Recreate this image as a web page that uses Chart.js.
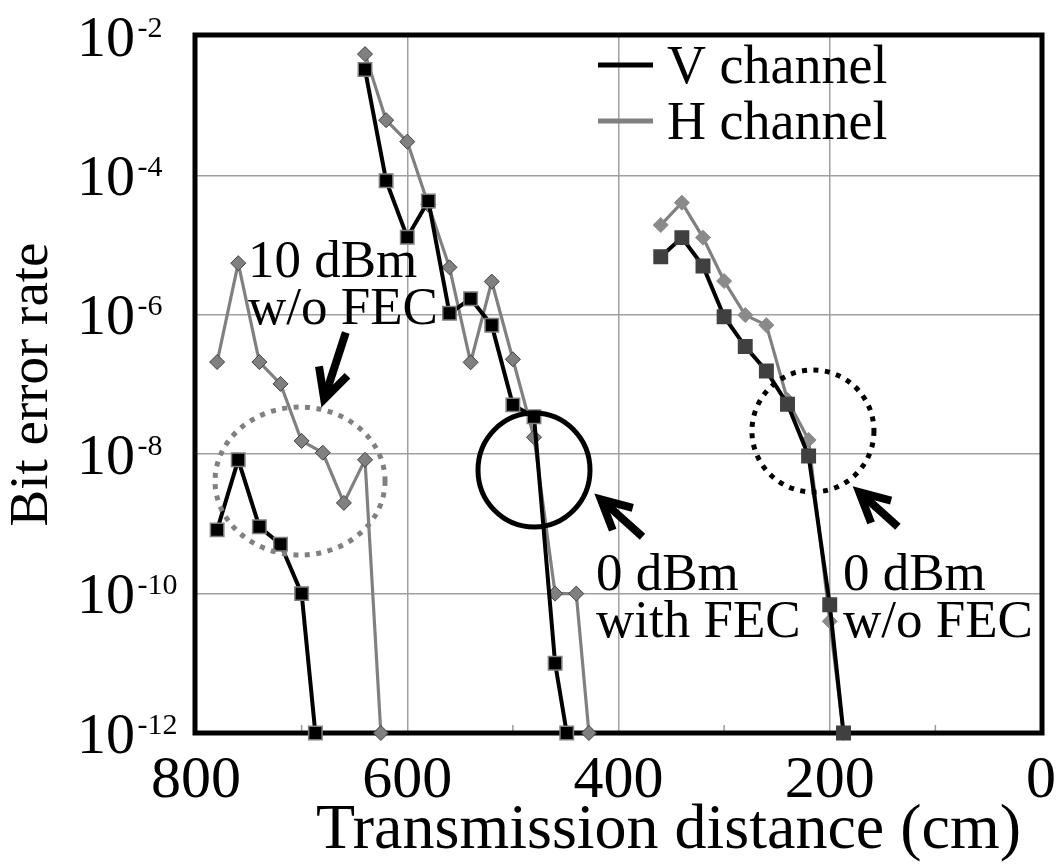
<!DOCTYPE html>
<html><head><meta charset="utf-8">
<script src="https://cdn.jsdelivr.net/npm/chart.js@4.4.0/dist/chart.umd.min.js"></script>
<style>html,body{margin:0;padding:0;background:#fff;} #wrap{width:1056px;height:865px;position:relative;}</style>
</head><body><div id="wrap"><canvas id="c" width="1056" height="865"></canvas></div>
<script>
// ---- tick labels ----
const xTicks = [800, 600, 400, 200, 0];
const yTickExponents = [-12, -10, -8, -6, -4, -2];
const minorX = [700, 500, 300, 100];

// ---- 10 dBm w/o FEC ----
const v10Dist = [780, 760, 740, 720, 700, 687];
const v10Ber  = [8.2e-10, 8.3e-9, 9.1e-10, 5.1e-10, 1.0e-10, 1e-12];
const h10Dist = [780, 760, 740, 720, 700, 680, 660, 640, 625];
const h10Ber  = [2.1e-7, 5.5e-6, 2.1e-7, 1.02e-7, 1.55e-8, 1.05e-8, 2.0e-9, 8.3e-9, 1e-12];

// ---- 0 dBm with FEC ----
const vFecDist = [640, 620, 600, 580, 560, 540, 520, 500, 480, 460, 449];
const vFecBer  = [3.3e-3, 8.4e-5, 1.3e-5, 4.3e-5, 1.05e-6, 1.7e-6, 7.1e-7, 5.1e-8, 3.45e-8, 1.0e-11, 1e-12];
const hFecDist = [640, 620, 600, 580, 560, 540, 520, 500, 480, 460, 440, 428];
const hFecBer  = [5.5e-3, 6.2e-4, 3.05e-4, 3.8e-5, 4.8e-6, 2.08e-7, 3.0e-6, 2.3e-7, 1.75e-8, 1e-10, 1e-10, 1e-12];

// ---- 0 dBm w/o FEC ----
const vNoDist = [360, 340, 320, 300, 280, 260, 240, 220, 200, 187];
const vNoBer  = [6.8e-6, 1.28e-5, 5.0e-6, 9.4e-7, 3.5e-7, 1.56e-7, 5.2e-8, 9.4e-9, 6.9e-11, 1e-12];
const hNoDist = [360, 340, 320, 300, 280, 260, 240, 220, 200, 187];
const hNoBer  = [1.94e-5, 4.06e-5, 1.28e-5, 3.05e-6, 9.9e-7, 7.1e-7, 6.0e-8, 1.6e-8, 4e-11, 1e-12];

const legendLabels = ['V channel', 'H channel'];
const xTitle = 'Transmission distance (cm)';
const yTitle = 'Bit error rate';

// ---- annotations (anchored in data coordinates) ----
const notes = [
  {lines: ['10 dBm', 'w/o FEC'], x: 750.8, logY: -5.458},
  {lines: ['0 dBm', 'with FEC'], x: 421.3, logY: -9.948},
  {lines: ['0 dBm', 'w/o FEC'], x: 187.5, logY: -9.948}
];
const circles = [
  {x: 701.5, logY: -8.385, rx: 85, ry: 74, color: '#808080', dash: [5, 6.5]},
  {x: 480.0, logY: -8.227, rx: 56, ry: 57, color: '#000000', dash: []},
  {x: 215.9, logY: -7.667, rx: 61, ry: 61, color: '#000000', dash: [5, 6.5]}
];
const arrows = [
  {x: 681, logY: -7.318, angle: -72, len: 78},
  {x: 422.3, logY: -8.571, angle: 42, len: 64},
  {x: 177.7, logY: -8.466, angle: 42, len: 60}
];

const FONT = "'Liberation Serif', 'Times New Roman', serif";
const pts = (xs, ys) => xs.map((d, i) => ({x: d, y: ys[i]}));

const V_LINE = '#000000', H_LINE = '#808080';
function vSet(xs, ys, fill, border) {
  return {data: pts(xs, ys), borderColor: V_LINE, borderWidth: 4, pointStyle: 'rect', pointRadius: 9.5,
    pointBackgroundColor: fill, pointBorderColor: border, pointBorderWidth: 1.5, order: 0, tension: 0, clip: false};
}
function hSet(xs, ys, fill, border) {
  return {data: pts(xs, ys), borderColor: H_LINE, borderWidth: 3.2, pointStyle: 'rectRot', pointRadius: 7.5,
    pointBackgroundColor: fill, pointBorderColor: border, pointBorderWidth: 1, order: 1, tension: 0, clip: false};
}

const decor = {
  id: 'decor',
  beforeDatasetsDraw(chart) {
    const {ctx, chartArea: a, scales: {x}} = chart;
    ctx.save();
    // minor tick marks
    ctx.strokeStyle = '#9a9a9a'; ctx.lineWidth = 1.5;
    minorX.forEach(v => {
      const px = x.getPixelForValue(v);
      ctx.beginPath(); ctx.moveTo(px, a.bottom); ctx.lineTo(px, a.bottom - 8); ctx.stroke();
    });
    // frame
    ctx.lineWidth = 5; ctx.strokeStyle = '#000';
    ctx.strokeRect(a.left - 1, a.top - 1, a.width + 2, a.height + 1);
    ctx.restore();
  },
  afterDatasetsDraw(chart) {
    const {ctx, chartArea: a, scales: {x, y}} = chart;
    ctx.save();
    // circles
    circles.forEach(c => {
      ctx.beginPath(); ctx.setLineDash(c.dash); ctx.lineWidth = 5; ctx.strokeStyle = c.color;
      ctx.ellipse(x.getPixelForValue(c.x), y.getPixelForValue(Math.pow(10, c.logY)), c.rx, c.ry, 0, 0, 2 * Math.PI);
      ctx.stroke();
    });
    ctx.setLineDash([]);
    // arrows
    arrows.forEach(ar => {
      const tx = x.getPixelForValue(ar.x), ty = y.getPixelForValue(Math.pow(10, ar.logY));
      const ang = ar.angle * Math.PI / 180;
      const vx = tx + Math.cos(ang) * 8, vy = ty + Math.sin(ang) * 8;
      ctx.lineWidth = 8; ctx.strokeStyle = '#000'; ctx.lineCap = 'butt'; ctx.lineJoin = 'miter';
      ctx.beginPath(); ctx.moveTo(vx, vy);
      ctx.lineTo(tx + Math.cos(ang) * ar.len, ty + Math.sin(ang) * ar.len); ctx.stroke();
      const spread = 27 * Math.PI / 180, al = 33;
      ctx.beginPath();
      ctx.moveTo(vx + Math.cos(ang - spread) * al, vy + Math.sin(ang - spread) * al);
      ctx.lineTo(vx, vy);
      ctx.lineTo(vx + Math.cos(ang + spread) * al, vy + Math.sin(ang + spread) * al);
      ctx.stroke();
    });
    // annotation texts
    ctx.fillStyle = '#000'; ctx.textAlign = 'left'; ctx.textBaseline = 'alphabetic';
    ctx.font = `53px ${FONT}`;
    notes.forEach(n => {
      const px = x.getPixelForValue(n.x), py = y.getPixelForValue(Math.pow(10, n.logY));
      n.lines.forEach((t, i) => ctx.fillText(t, px, py + i * 47));
    });
    // y tick labels (10 with superscript exponent)
    yTickExponents.forEach(e => {
      const py = y.getPixelForValue(Math.pow(10, e));
      ctx.font = `58px ${FONT}`;
      ctx.fillText('10', y.left + 77, py + 19.5);
      const w = ctx.measureText('10').width;
      ctx.font = `30px ${FONT}`;
      ctx.fillText(String(e), y.left + 77 + w + 2.5, py + 0.5);
    });
    // x axis title
    ctx.font = `64px ${FONT}`;
    ctx.textAlign = 'center';
    ctx.fillText(xTitle, (a.left + a.right) / 2 + 50, chart.height - 17);
    ctx.textAlign = 'left';
    // legend
    const lg = [{c: V_LINE, dy: 29}, {c: H_LINE, dy: 85}];
    ctx.font = `54px ${FONT}`;
    lg.forEach((l, i) => {
      const ly = a.top + l.dy;
      ctx.strokeStyle = l.c; ctx.lineWidth = 5;
      ctx.beginPath(); ctx.moveTo(a.left + 402, ly); ctx.lineTo(a.left + 457, ly); ctx.stroke();
      ctx.fillStyle = '#000';
      ctx.fillText(legendLabels[i], a.left + 471, ly + 18);
    });
    ctx.restore();
  }
};

new Chart(document.getElementById('c'), {
  type: 'line',
  data: {
    datasets: [
      vSet(v10Dist, v10Ber, '#000000', '#7f7f7f'),
      vSet(vFecDist, vFecBer, '#000000', '#7f7f7f'),
      vSet(vNoDist, vNoBer, '#404040', '#404040'),
      hSet(h10Dist, h10Ber, '#808080', '#404040'),
      hSet(hFecDist, hFecBer, '#808080', '#404040'),
      hSet(hNoDist, hNoBer, '#8a8a8a', '#8a8a8a')
    ]
  },
  options: {
    responsive: false,
    animation: false,
    layout: {padding: {top: 36, right: 15, left: 0, bottom: 0}},
    plugins: {legend: {display: false}, tooltip: {enabled: false}},
    scales: {
      x: {
        type: 'linear', reverse: true, min: 0, max: 800,
        afterBuildTicks: s => { s.ticks = xTicks.map(v => ({value: v})); },
        afterFit: s => { s.height = 132; s.paddingLeft = 0; s.paddingRight = 0; },
        ticks: {font: {family: FONT, size: 60}, color: '#000', padding: 12, maxRotation: 0},
        grid: {color: '#a0a0a0', lineWidth: 1.5, drawTicks: false},
        border: {display: false},
        title: {display: false, text: xTitle}
      },
      y: {
        type: 'logarithmic', min: 1e-12, max: 1e-2,
        afterBuildTicks: s => { s.ticks = yTickExponents.map(e => ({value: Math.pow(10, e)})); },
        afterFit: s => { s.width = 196; },
        ticks: {display: false},
        grid: {color: '#a0a0a0', lineWidth: 1.5, drawTicks: false},
        border: {display: false},
        title: {display: true, text: yTitle, font: {family: FONT, size: 55}, color: '#000', padding: 0}
      }
    }
  },
  plugins: [decor]
});
</script>
</body></html>
